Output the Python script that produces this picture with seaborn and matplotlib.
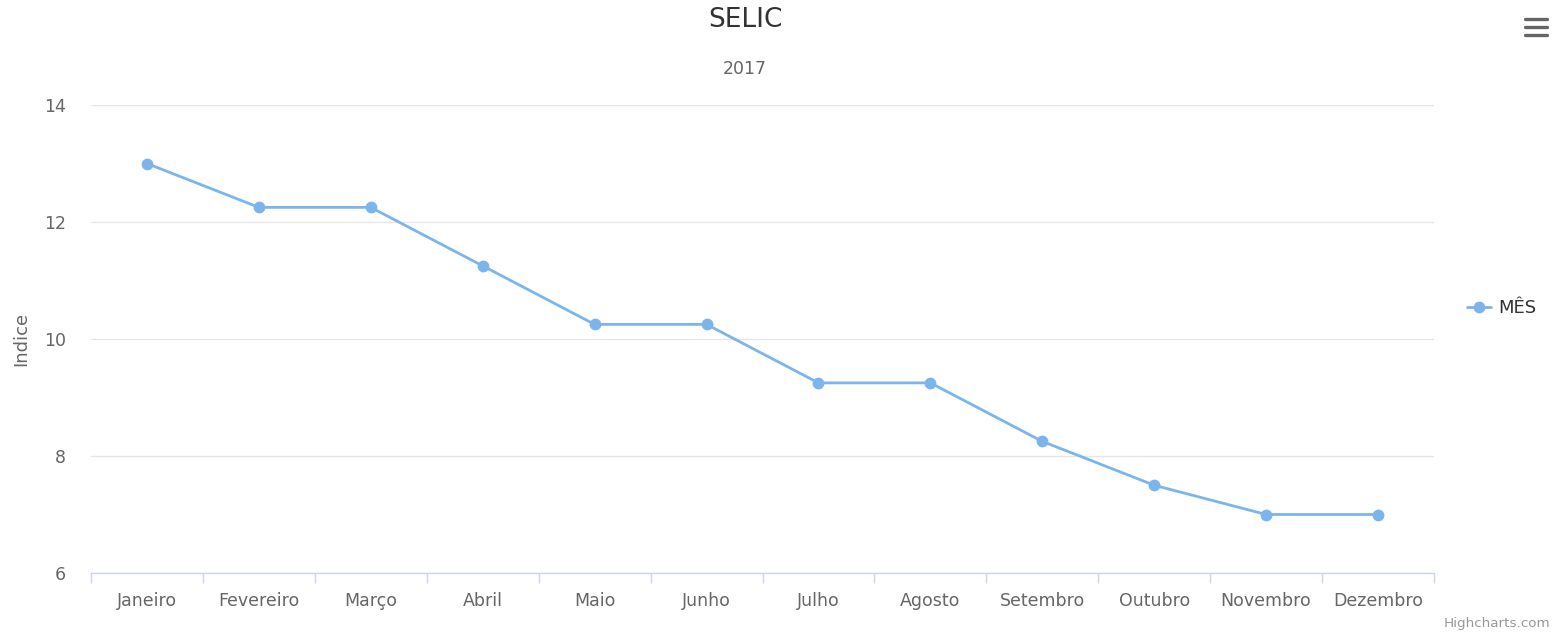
import pandas as pd
import numpy as np
import matplotlib.pyplot as plt
import seaborn as sns
from matplotlib.lines import Line2D

meses = ["Janeiro", "Fevereiro", "Março", "Abril", "Maio", "Junho",
         "Julho", "Agosto", "Setembro", "Outubro", "Novembro", "Dezembro"]
selic = [13, 12.25, 12.25, 11.25, 10.25, 10.25, 9.25, 9.25, 8.25, 7.5, 7, 7]
y_ticks = [6, 8, 10, 12, 14]

df = pd.DataFrame({"mes": meses, "valor": selic})

sns.set_style("white")
plt.rcParams["font.family"] = ["DejaVu Sans"]

W, H = 1553, 634
fig = plt.figure(figsize=(W / 100, H / 100), dpi=100)
ax = fig.add_axes([91 / W, (H - 573) / H, (1434 - 91) / W, (573 - 105) / H])

sns.lineplot(data=df, x="mes", y="valor", ax=ax, color="#7cb5ec", linewidth=2,
             marker="o", markersize=8.5, markeredgewidth=0, label="MÊS", sort=False)

ax.set_xlim(-0.5, len(meses) - 0.5)
ax.set_ylim(6, 14)
ax.set_yticks(y_ticks)
ax.grid(axis="y", color="#e6e6e6", linewidth=1)
ax.set_axisbelow(True)

for s in ["top", "right", "left"]:
    ax.spines[s].set_visible(False)
ax.spines["bottom"].set_color("#ccd6eb")
ax.spines["bottom"].set_linewidth(1)

# rótulos no centro, marcas nas fronteiras
ax.set_xticks(range(len(meses)))
ax.set_xticklabels(meses)
ax.set_xticks(np.arange(-0.5, len(meses)), minor=True)
ax.tick_params(axis="x", which="major", bottom=True, length=0, labelsize=12.5,
               colors="#666666", pad=14)
ax.tick_params(axis="x", which="minor", bottom=True, length=7.5, width=1,
               color="#ccd6eb", direction="out")
ax.tick_params(axis="y", length=0, labelsize=12.5, colors="#666666", pad=18)

ax.set_xlabel("")
ax.set_ylabel("Indice", fontsize=13, color="#666666")
ax.yaxis.set_label_coords(-61 / (1434 - 91), 0.5)

fig.text(745 / W, 1 - 20 / H, "SELIC", fontsize=19, color="#333333", ha="center", va="center")
fig.text(745 / W, 1 - 69 / H, "2017", fontsize=12.5, color="#666666", ha="center", va="center")
fig.text(1550 / W, 1 - 623 / H, "Highcharts.com", fontsize=9.7, color="#999999", ha="right", va="center")

leg = ax.legend(loc="center left", bbox_to_anchor=(1460 / W, 1 - 308 / H),
                bbox_transform=fig.transFigure, frameon=False, fontsize=13,
                handlelength=1.3, handletextpad=0.4, borderaxespad=0)
for t in leg.get_texts():
    t.set_color("#333333")

# ícone de menu
for yy in [18.5, 26.5, 34.5]:
    fig.add_artist(Line2D([1525 / W, 1547 / W], [1 - yy / H, 1 - yy / H], color="#666666",
                          linewidth=2.4, solid_capstyle="round"))

fig.savefig("out.png", dpi=100)
